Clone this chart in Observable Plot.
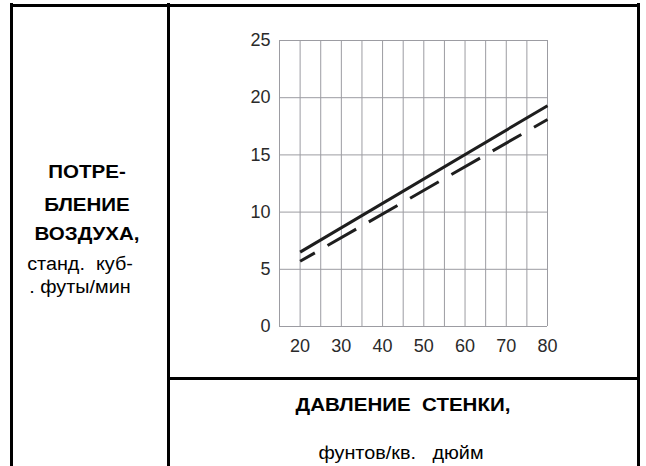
<!DOCTYPE html>
<html><head><meta charset="utf-8">
<script src="https://cdn.jsdelivr.net/npm/d3@7"></script>
<script src="https://cdn.jsdelivr.net/npm/@observablehq/plot@0.6"></script>
<style>
html,body{margin:0;padding:0;background:#fff;}
#root{position:relative;width:646px;height:466px;overflow:hidden;font-family:"Liberation Sans",Arial,sans-serif;color:#000;}
.b{position:absolute;background:#000;}
.t{position:absolute;white-space:pre;line-height:1;text-align:center;width:240px;}
.bold{font-weight:bold;font-size:19px;}
.reg{font-weight:normal;font-size:18px;}
#chart{position:absolute;left:0;top:0;}
</style></head><body><div id="root">
<div id="chart"></div>
<div class="b" style="left:10px;top:4px;width:630px;height:3px"></div>
<div class="b" style="left:10px;top:3px;width:3px;height:463px"></div>
<div class="b" style="left:167px;top:3px;width:3px;height:463px"></div>
<div class="b" style="left:637px;top:3px;width:3px;height:463px"></div>
<div class="b" style="left:170px;top:377px;width:467px;height:3px"></div>
</div>
<script>
// Data
const pressure = [20, 80];
const solidFlow = [6.5, 19.3];
const dashedFlow = [5.7, 18.1];
const xTicks = [20, 30, 40, 50, 60, 70, 80];
const yTicks = [0, 5, 10, 15, 20, 25];
const xGrid = [15, 20, 25, 30, 35, 40, 45, 50, 55, 60, 65, 70, 75, 80];
const yGrid = [0, 5, 10, 15, 20, 25];
const yLabelLines = ["ПОТРЕ-", "БЛЕНИЕ", "ВОЗДУХА,"];
const yUnitLines = ["станд.  куб-", ". футы/мин"];
const xLabel = "ДАВЛЕНИЕ  СТЕНКИ,";
const xUnit = "фунтов/кв.   дюйм";

const solid = pressure.map((p, i) => ({p, v: solidFlow[i]}));
const dashed = pressure.map((p, i) => ({p, v: dashedFlow[i]}));

const chart = Plot.plot({
  width: 646, height: 466,
  marginLeft: 279, marginRight: 99, marginTop: 40, marginBottom: 140,
  x: {domain: [15, 80]},
  y: {domain: [0, 25]},
  style: {fontFamily: "'Liberation Sans', Arial, sans-serif", fontSize: "18px", color: "#2a2a2a", background: "transparent", overflow: "visible"},
  marks: [
    Plot.ruleX(xGrid, {stroke: "#9c9ca2", strokeWidth: 1}),
    Plot.ruleY(yGrid, {stroke: "#9c9ca2", strokeWidth: 1}),
    Plot.axisX({ticks: xTicks, tickSize: 0, tickPadding: 13, label: null, fontSize: 18}),
    Plot.axisY({ticks: yTicks, tickSize: 0, tickPadding: 9, label: null, fontSize: 18}),
    Plot.line(solid, {x: "p", y: "v", stroke: "#1e1e1e", strokeWidth: 3, strokeLinecap: "butt"}),
    Plot.line(dashed, {x: "p", y: "v", stroke: "#1e1e1e", strokeWidth: 3, strokeLinecap: "butt", strokeDasharray: "33,14.6", strokeDashoffset: 16})
  ]
});
document.getElementById("chart").appendChild(chart);

// Text labels (HTML)
const root = document.getElementById("root");
function addText(txt, cls, cx, baseline, size, sx) {
  const d = document.createElement("div");
  d.className = "t " + cls;
  d.textContent = txt;
  d.style.left = (cx - 120) + "px";
  d.style.top = (baseline - 0.8465 * size) + "px";
  d.style.transform = `scaleX(${sx})`;
  root.appendChild(d);
}
const yBase = [178, 211, 240];
yLabelLines.forEach((t, i) => addText(t, "bold", 87, yBase[i], 19, 1.08));
const uBase = [270, 293];
yUnitLines.forEach((t, i) => addText(t, "reg", 80, uBase[i], 18, 1.1));
addText(xLabel, "bold", 403, 411, 19, 1.08);
addText(xUnit, "reg", 401, 459, 18, 1.1);
</script>
</body></html>
